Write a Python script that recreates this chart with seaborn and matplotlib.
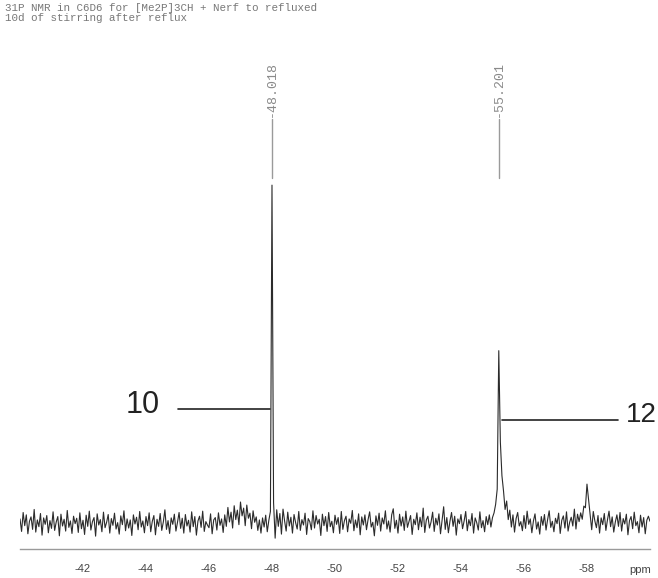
"""
31P NMR spectrum in C6D6, redrawn with seaborn.
"""

import matplotlib
matplotlib.use("Agg")
import matplotlib.pyplot as plt
import numpy as np
import pandas as pd
import seaborn as sns

# ---------------------------------------------------------------------------
# Data: intensity, one value every 0.05 ppm from -40 to -60
# ---------------------------------------------------------------------------

ppm_start = -40.0
ppm_step = -0.05

intensity = [
    # -40
    1.2, -2.5, 3.1, -0.8, 2.4, -3.2, 0.5, 1.8, -1.9, 4.0, -2.7, 0.9, -1.1, 2.8, -3.6, 1.5, -0.4, 2.2, -2.9, 0.7,
    # -41
    -1.6, 3.3, -2.2, 0.3, 1.9, -3.8, 2.6, -0.9, 1.1, -2.4, 3.7, -1.3, 0.6, -3.1, 2.0, -0.2, 1.4, -2.8, 3.0, -1.7,
    # -42
    0.8, -3.4, 2.3, -1.0, 3.5, -2.1, 0.4, 1.6, -3.9, 2.7, -0.6, 1.0, -2.6, 3.2, -1.4, 0.2, 2.5, -3.0, 1.3, -0.7,
    # -43
    2.9, -1.8, 0.1, -3.3, 2.1, -0.5, 3.6, -2.3, 1.2, -1.5, 0.9, -3.7, 2.4, -0.3, 1.7, -2.0, 3.4, -1.2, 0.6, -2.9,
    # -44
    1.9, -0.8, 3.0, -2.6, 0.5, 2.2, -3.5, 1.1, -1.0, 2.8, -2.2, 0.3, 3.9, -1.9, 0.7, -3.1, 1.5, -0.4, 2.6, -2.4,
    # -45
    0.2, 3.1, -1.6, 1.4, -3.0, 2.5, -0.9, 0.8, -2.7, 3.3, -1.1, 1.9, -3.6, 0.6, 2.0, -1.3, 3.5, -2.5, 0.4, -0.6,
    # -46
    -1.4, 2.7, -3.2, 0.9, 1.6, -2.1, 3.0, -0.7, 1.2, -2.8, 2.4, -1.0, 4.6, 0.3, 3.2, -1.5, 5.1, 1.0, 3.8, -0.5,
    # -47
    6.2, 2.1, 4.4, -0.8, 5.3, 1.4, 2.9, -1.7, 3.6, 0.2, 1.8, -2.2, 0.9, -3.0, 1.5, -1.2, 2.3, -2.6, 0.8, 3.4,
    # -48
    100.0, 6.0, -4.5, 3.9, -1.0, 2.8, -3.3, 4.1, 0.6, -2.4, 3.2, -0.9, 1.7, -3.0, 2.5, 0.1, -1.8, 3.4, -2.2, 1.0,
    # -49
    -0.6, 2.9, -3.4, 1.3, 0.4, -2.0, 3.6, -1.5, 2.2, -0.3, 1.1, -3.7, 2.6, -0.8, 1.9, -2.5, 3.1, -1.1, 0.5, -2.9,
    # -50
    2.3, -0.4, 1.6, -3.1, 3.4, -1.9, 0.7, 2.0, -2.6, 1.2, -0.1, 3.7, -2.3, 0.9, -1.4, 2.7, -3.5, 1.8, -0.6, 2.4,
    # -51
    -2.0, 1.0, 3.3, -1.2, 0.2, -3.8, 2.1, -0.7, 2.9, -2.4, 1.5, -0.3, 3.6, -1.8, 0.6, -2.7, 2.4, 4.2, -1.6, 0.8,
    # -52
    -3.0, 2.6, -0.9, 1.8, -2.2, 3.5, -1.3, 0.4, 2.2, -3.4, 1.1, -0.5, 3.0, -2.0, 1.7, -1.1, 4.4, -2.8, 0.9, 2.0,
    # -53
    -1.5, 0.3, 3.2, -2.5, 1.4, -0.6, 2.7, -3.2, 0.8, 4.8, -1.9, 1.6, -2.9, 0.5, 3.1, -1.0, 2.0, -3.6, 1.2, -0.2,
    # -54
    2.5, -1.7, 0.6, 3.4, -2.3, 1.0, -0.8, 2.8, -3.0, 1.5, 0.1, -2.1, 3.3, -1.4, 0.7, -2.6, 1.9, -0.5, 2.4, -1.2,
    # -55
    1.6, 3.0, 5.5, 10.0, 51.0, 24.0, 14.0, 9.5, 4.0, 6.5, 1.0, 3.8, -1.2, 2.4, -2.7, 1.3, 3.1, -0.9, 0.4, -2.3,
    # -56
    2.2, -1.6, 3.5, -0.4, 1.2, -2.9, 0.6, 2.7, -1.8, 0.3, -3.3, 1.9, -0.7, 2.5, -2.1, 1.0, 3.6, -1.3, 0.5, -2.6,
    # -57
    1.4, -0.2, 2.9, -3.1, 0.8, 2.1, -1.5, 3.3, -2.4, 0.2, 1.7, -0.9, 4.1, -1.8, 2.6, 0.4, 3.0, 1.1, 5.0, 4.5,
    # -58
    11.5, 7.0, 2.5, -2.0, 3.4, 0.6, -1.4, 2.2, -3.0, 1.5, -0.5, 2.8, -2.2, 0.9, 3.5, -1.1, 1.8, -2.7, 0.3, 2.4,
    # -59
    -1.0, 3.1, -2.4, 1.3, -0.3, 2.6, -3.5, 0.7, 1.9, -1.7, 3.2, -0.8, 0.4, -2.9, 2.3, -1.2, 1.6, -3.2, 0.8, 2.0,
    # -60
    0.5,
]

peak_ppm = [-48.0, -55.2]
peak_labels = ["-48.018", "-55.201"]
compound_labels = ["10", "12"]

title_lines = [
    "31P NMR in C6D6 for [Me2P]3CH + Nerf to refluxed",
    "10d of stirring after reflux",
]

major_ticks = [-42, -44, -46, -48, -50, -52, -54, -56, -58]

# ---------------------------------------------------------------------------
# Plot
# ---------------------------------------------------------------------------

sns.set_style("white")
plt.rcParams["font.family"] = ["Liberation Sans", "DejaVu Sans"]

ppm = ppm_start + ppm_step * np.arange(len(intensity))
df = pd.DataFrame({"ppm": ppm, "intensity": intensity})

fig = plt.figure(figsize=(6.58, 5.78), dpi=100)
ax = fig.add_axes([0.0304, 0.0502, 0.9574, 0.8633])

sns.lineplot(data=df, x="ppm", y="intensity", ax=ax, sort=False,
             estimator=None, color="#2b2b2b", lw=0.8)

ax.set_xlim(-40, -60)
ax.set_ylim(-7.7, 140)

# spines / ticks
for side in ["top", "left", "right"]:
    ax.spines[side].set_visible(False)
ax.spines["bottom"].set_color("#9a9a9a")
ax.spines["bottom"].set_linewidth(1.0)

ax.set_xticks(major_ticks)
ax.set_xticklabels([str(t) for t in major_ticks])
ax.set_xticks(np.arange(-40, -61, -1), minor=True)
ax.tick_params(axis="x", which="major", direction="inout", length=6,
               width=0.8, color="#9a9a9a", labelsize=8, labelcolor="#444444",
               pad=8)
ax.tick_params(axis="x", which="minor", direction="inout", length=4,
               width=0.6, color="#bbbbbb")
ax.set_yticks([])
ax.set_xlabel("")
ax.set_ylabel("")
ax.text(0.985, -0.043, "ppm", transform=ax.transAxes, fontsize=8,
        color="#444444", ha="center", va="center")

# peak position labels
for x, lab in zip(peak_ppm, peak_labels):
    ax.plot([x, x], [102.1, 119.5], color="#9a9a9a", lw=1.0)
    ax.text(x, 136.6, lab, rotation=90, ha="center", va="top",
            fontsize=9.5, color="#8a8a8a", family="Liberation Mono")

# compound number labels
ax.plot([-45.02, -47.94], [33.7, 33.7], color="#222222", lw=1.2)
ax.text(-43.88, 34.9, compound_labels[0], fontsize=22, color="#222222",
        ha="center", va="center")
ax.plot([-55.29, -58.97], [30.5, 30.5], color="#222222", lw=1.2)
ax.text(-59.22, 32.0, compound_labels[1], fontsize=20, color="#222222",
        ha="left", va="center", clip_on=False)

# header
fig.text(0.008, 0.995, "\n".join(title_lines), ha="left", va="top",
         fontsize=7.8, color="#777777", family="Liberation Mono",
         linespacing=1.0)

fig.savefig("out.png", dpi=100, facecolor="white")
